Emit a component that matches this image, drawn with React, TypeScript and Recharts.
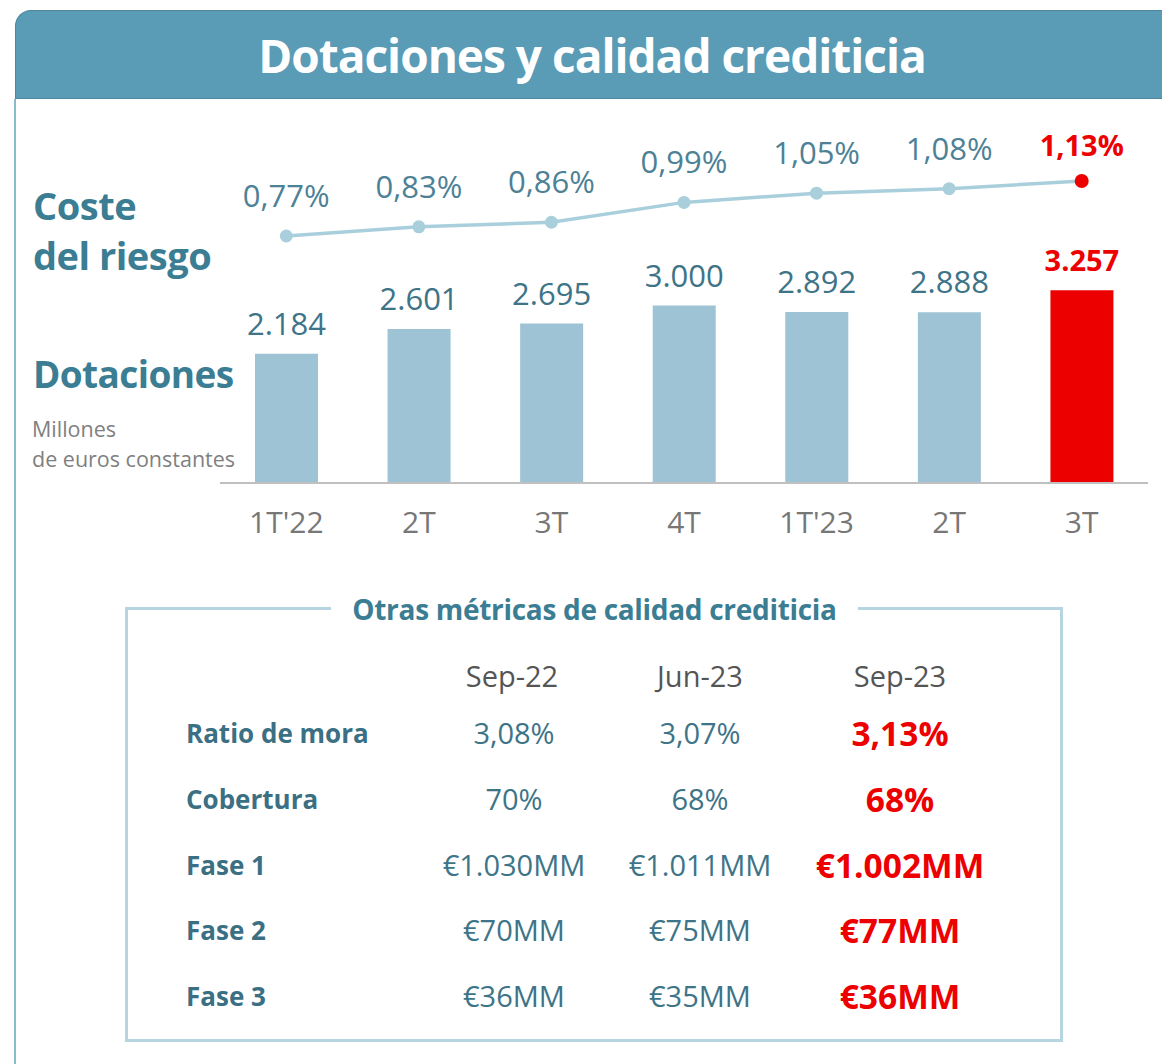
import React from 'react';
import { ComposedChart, Bar, Line, XAxis, YAxis, Cell, LabelList } from 'recharts';

// chart data
const quarters = ["1T'22", '2T', '3T', '4T', "1T'23", '2T', '3T'];
const dotaciones = [2184, 2601, 2695, 3000, 2892, 2888, 3257];
const costeRiesgo = [0.77, 0.83, 0.86, 0.99, 1.05, 1.08, 1.13];

// table data
const metricColumns = ['Sep-22', 'Jun-23', 'Sep-23'];
const metricRows = ['Ratio de mora', 'Cobertura', 'Fase 1', 'Fase 2', 'Fase 3'];
const sep22 = ['3,08%', '70%', '€1.030MM', '€70MM', '€36MM'];
const jun23 = ['3,07%', '68%', '€1.011MM', '€75MM', '€35MM'];
const sep23 = ['3,13%', '68%', '€1.002MM', '€77MM', '€36MM'];

const FONT = '"Open Sans", "Noto Sans", sans-serif';
const COLORS = {
    header: '#5a9bb6',
    headerEdge: '#4c869f',
    frame: '#88bccd',
    bar: '#9dc3d4',
    line: '#a9cfdc',
    red: '#ec0000',
    teal: '#3b7d93',
    valueText: '#3e7487',
    lineText: '#4d8196',
    axis: '#c0c0c0',
    tick: '#777777',
    gray: '#808080',
    box: '#b7d5e1',
};

const data = quarters.map((q, i) => ({ q, dot: dotaciones[i], coste: costeRiesgo[i] }));
const last = data.length - 1;

// 2184 -> "2.184"
function fmtMillions(v: number) {
    return String(v).replace(/\B(?=(\d{3})+(?!\d))/g, '.');
}
function fmtPct(v: number) {
    return v.toFixed(2).replace('.', ',') + '%';
}

const BarLabel = ({ x, y, width, value, index }: any) => {
    const hot = index === last;
    return (
        <text
            x={x + width / 2}
            y={y - 19}
            textAnchor="middle"
            fill={hot ? COLORS.red : COLORS.valueText}
            fontSize={hot ? 29 : 31}
            fontWeight={hot ? 700 : 400}
            fontFamily={FONT}
        >
            {fmtMillions(value)}
        </text>
    );
};

const LineLabel = ({ x, y, value, index }: any) => {
    const hot = index === last;
    return (
        <text
            x={x}
            y={hot ? y - 25 : y - 29}
            textAnchor="middle"
            fill={hot ? COLORS.red : COLORS.lineText}
            fontSize={hot ? 29 : 31}
            fontWeight={hot ? 700 : 400}
            fontFamily={FONT}
        >
            {fmtPct(value)}
        </text>
    );
};

const LineDot = ({ cx, cy, index }: any) => (
    <circle
        key={'d' + index}
        cx={cx}
        cy={cy}
        r={index === last ? 7 : 6.5}
        fill={index === last ? COLORS.red : COLORS.line}
    />
);

export default function App() {
    return (
        <div style={{ position: 'absolute', left: 0, top: 0, width: 1162, height: 1064, background: '#fff', fontFamily: FONT, overflow: 'hidden' }}>
            {/* header band */}
            <div
                style={{
                    position: 'absolute', left: 15, top: 10, width: 1160, height: 89,
                    background: COLORS.header, borderTop: `1.5px solid ${COLORS.headerEdge}`,
                    borderLeft: `1.5px solid ${COLORS.headerEdge}`, borderBottom: `1.5px solid ${COLORS.headerEdge}`,
                    borderTopLeftRadius: 16, boxSizing: 'border-box',
                }}
            />
            <div style={{ position: 'absolute', left: 15, top: 10, width: 1160, height: 89, display: 'flex', alignItems: 'center', justifyContent: 'center' }}>
                <span style={{ color: '#fff', fontSize: 46, fontWeight: 700, letterSpacing: -1, marginRight: 6 }}>
                    Dotaciones y calidad crediticia
                </span>
            </div>
            {/* left frame line */}
            <div style={{ position: 'absolute', left: 14, top: 99, width: 2, height: 965, background: COLORS.frame }} />

            {/* side titles */}
            <div style={{ position: 'absolute', left: 33, top: 180, color: COLORS.teal, fontSize: 38, fontWeight: 700, lineHeight: '50px', letterSpacing: -0.5 }}>
                Coste<br />del riesgo
            </div>
            <div style={{ position: 'absolute', left: 33, top: 349, color: COLORS.teal, fontSize: 37, fontWeight: 700, lineHeight: '50px', letterSpacing: -0.6 }}>
                Dotaciones
            </div>
            <div style={{ position: 'absolute', left: 32, top: 414, color: COLORS.gray, fontSize: 21.5, lineHeight: '30px' }}>
                Millones<br />de euros constantes
            </div>

            {/* chart */}
            <div style={{ position: 'absolute', left: 220, top: 0 }}>
                <ComposedChart width={928} height={560} data={data} margin={{ top: 128, right: 0, bottom: 17, left: 0 }}>
                    <XAxis
                        dataKey="q"
                        height={60}
                        tickLine={false}
                        tickMargin={23}
                        axisLine={{ stroke: COLORS.axis, strokeWidth: 2 }}
                        tick={{ fill: COLORS.tick, fontSize: 30, fontFamily: FONT }}
                        interval={0}
                    />
                    <YAxis yAxisId="bar" hide domain={[0, 6000]} allowDataOverflow />
                    <YAxis yAxisId="pct" hide domain={[-0.8465, 1.4768]} allowDataOverflow />
                    <Bar yAxisId="bar" dataKey="dot" barSize={63} isAnimationActive={false}>
                        {data.map((d, i) => (
                            <Cell key={i} fill={i === last ? COLORS.red : COLORS.bar} />
                        ))}
                        <LabelList dataKey="dot" content={BarLabel} />
                    </Bar>
                    <Line
                        yAxisId="pct"
                        type="linear"
                        dataKey="coste"
                        stroke={COLORS.line}
                        strokeWidth={3.5}
                        dot={LineDot}
                        activeDot={false}
                        isAnimationActive={false}
                    >
                        <LabelList dataKey="coste" content={LineLabel} />
                    </Line>
                </ComposedChart>
            </div>

            {/* other metrics box */}
            <div style={{ position: 'absolute', left: 125, top: 607, width: 938, height: 435, border: `3px solid ${COLORS.box}`, boxSizing: 'border-box' }} />
            <div style={{ position: 'absolute', left: 331, top: 589, width: 527, height: 40, background: '#fff', display: 'flex', alignItems: 'center', justifyContent: 'center' }}>
                <span style={{ color: COLORS.teal, fontSize: 28, fontWeight: 700, letterSpacing: -0.3 }}>Otras métricas de calidad crediticia</span>
            </div>
            {metricColumns.map((c, i) => (
                <div key={c} style={{ position: 'absolute', left: [512, 700, 900][i] - 100, top: 656, width: 200, textAlign: 'center', color: '#555', fontSize: 29, lineHeight: '40px' }}>
                    {c}
                </div>
            ))}
            {metricRows.map((r, i) => {
                const yc = 733 + i * 65.8;
                return (
                    <React.Fragment key={r}>
                        <div style={{ position: 'absolute', left: 186, top: yc - 20, color: '#3b6f83', fontSize: 26, fontWeight: 700, lineHeight: '40px' }}>{r}</div>
                        <div style={{ position: 'absolute', left: 414, top: yc - 20, width: 200, textAlign: 'center', color: COLORS.valueText, fontSize: 29, lineHeight: '40px' }}>{sep22[i]}</div>
                        <div style={{ position: 'absolute', left: 600, top: yc - 20, width: 200, textAlign: 'center', color: COLORS.valueText, fontSize: 29, lineHeight: '40px' }}>{jun23[i]}</div>
                        <div style={{ position: 'absolute', left: 800, top: yc - 20, width: 200, textAlign: 'center', color: COLORS.red, fontSize: 33.5, fontWeight: 700, lineHeight: '40px' }}>{sep23[i]}</div>
                    </React.Fragment>
                );
            })}
        </div>
    );
}
